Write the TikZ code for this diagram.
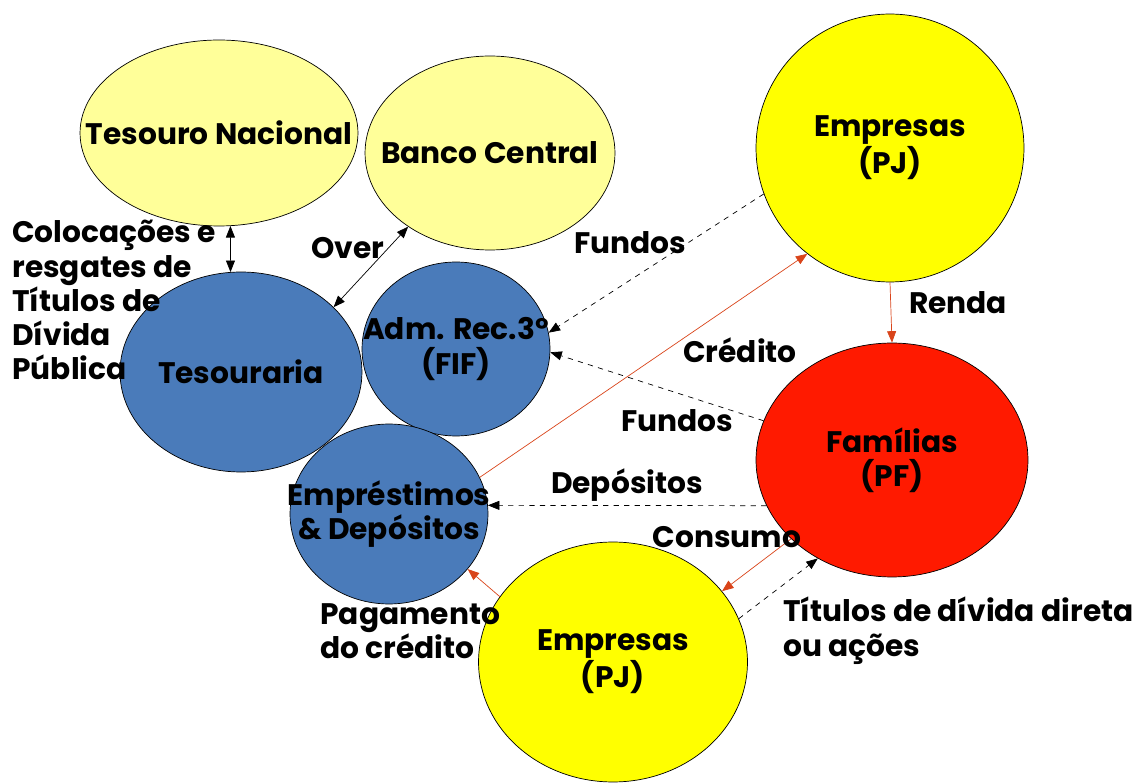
\documentclass[tikz,border=0pt]{standalone}
\usepackage{fontspec}
\setmainfont{Poppins}
\usepackage{tikz}
\usetikzlibrary{shapes.geometric,arrows.meta}
\definecolor{paleyellow}{HTML}{FFFF99}
\definecolor{fullyellow}{HTML}{FFFF00}
\definecolor{bankblue}{HTML}{4A7BBA}
\definecolor{famred}{HTML}{FF1A00}
\definecolor{flowred}{HTML}{D9441A}
\newcommand{\nobox}[1]{\makebox[0pt]{#1}}
\tikzset{
  txt/.style={font=\bfseries\fontsize{16.9}{19.5}\selectfont},
  agent/.style={ellipse, draw=black, thin, txt, align=center, inner sep=0pt},
  lbl/.style={txt, inner sep=0pt},
  tip/.style={-{Triangle[length=2.3mm,width=1.8mm]}},
  both/.style={{Triangle[length=2.3mm,width=1.8mm]}-{Triangle[length=2.3mm,width=1.8mm]}, thin},
  money/.style={tip, draw=flowred, thin},
  paper/.style={tip, dashed, thin},
}
\begin{document}
\begin{tikzpicture}[x=0.02cm, y=-0.02cm]
\useasboundingbox (0,0) rectangle (1136,783);
%% agents
\node[agent, fill=paleyellow, minimum width=5.56cm, minimum height=3.72cm] (tn) at (219,133) {\nobox{Tesouro Nacional}};
\node[agent, fill=paleyellow, minimum width=5cm, minimum height=3.88cm] (bc) at (490,153) {\nobox{Banco Central}};
\node[agent, fill=fullyellow, minimum width=5.36cm, minimum height=5.36cm] (emptop) at (890,148) {\nobox{Empresas}\\\nobox{(PJ)}};
\node[agent, fill=bankblue, minimum width=4.84cm, minimum height=4cm] (tes) at (241,372) {\nobox{Tesouraria}};
\node[agent, fill=bankblue, minimum width=3.76cm, minimum height=3.48cm] (adm) at (456,349) {\nobox{Adm. Rec.3º}\\\nobox{(FIF)}};
\node[agent, fill=bankblue, minimum width=3.96cm, minimum height=3.6cm] (empdep) at (389,514) {\nobox{Empréstimos}\\\nobox{\& Depósitos}};
\node[agent, fill=famred, minimum width=5.44cm, minimum height=4.68cm] (fam) at (892,460) {\nobox{Famílias}\\\nobox{(PF)}};
\node[agent, fill=fullyellow, minimum width=5.38cm, minimum height=4.8cm] (empbot) at (613,662) {\nobox{Empresas}\\\nobox{(PJ)}};
%% flows
\draw[both] (tn.277) -- (tes.96);
\draw[both] (tes.35) -- (bc.222);
\draw[paper] (emptop.200) -- (adm.10);
\draw[money] (empdep.22) -- (emptop.232);
\draw[money] (emptop.270) -- (fam.90);
\draw[paper] (fam.163) -- (adm.358);
\draw[paper] (fam.200) -- (empdep.5);
\draw[money] (fam.218) -- (empbot.33);
\draw[paper] (empbot.19) -- (fam.233);
\draw[money] (empbot.150) -- (empdep.325);
%% labels
\node[lbl, align=left, anchor=north west] (ltit) at (12,220) {Colocações e\\resgates de\\Títulos de\\Dívida\\Pública};
\node[lbl] (lover) at (348,248) {Over};
\node[lbl] (lfundtop) at (630,243) {Fundos};
\node[lbl] (lrenda) at (958,303) {Renda};
\node[lbl] (lcred) at (740,350) {Crédito};
\node[lbl] (lfundlow) at (677,421) {Fundos};
\node[lbl] (ldep) at (627,485) {Depósitos};
\node[lbl] (lcons) at (727,537) {Consumo};
\node[lbl, align=left, anchor=north west] (lpag) at (320,603) {Pagamento\\do crédito};
\node[lbl, align=left, anchor=north west] (ldiv) at (783,597) {Títulos de dívida direta\\ou ações};
\end{tikzpicture}
\end{document}
